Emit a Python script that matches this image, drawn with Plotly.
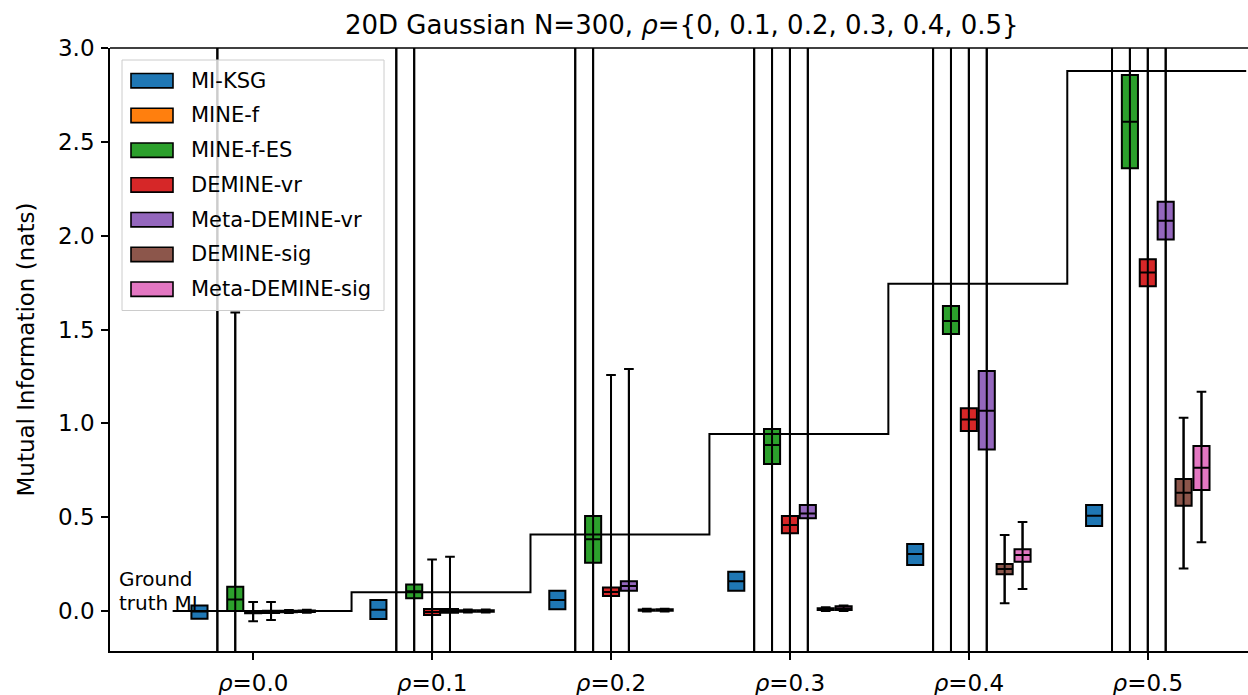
import plotly.graph_objects as go

# ---------------- data ----------------
rho_labels = ["0.0", "0.1", "0.2", "0.3", "0.4", "0.5"]
ground_truth = [0.0, 0.1005, 0.4082, 0.9431, 1.7435, 2.8768]

methods = ["MI-KSG", "MINE-f", "MINE-f-ES", "DEMINE-vr",
           "Meta-DEMINE-vr", "DEMINE-sig", "Meta-DEMINE-sig"]
colors = ["#1f77b4", "#ff7f0e", "#2ca02c", "#d62728",
          "#9467bd", "#8c564b", "#e377c2"]

# MI-KSG
ksg_q1 = [-0.041, -0.043, 0.009, 0.108, 0.245, 0.453]
ksg_med = [-0.002, 0.007, 0.059, 0.158, 0.304, 0.508]
ksg_q3 = [0.030, 0.059, 0.108, 0.209, 0.357, 0.565]
ksg_lo = [-0.041, -0.043, 0.009, 0.108, 0.245, 0.453]
ksg_hi = [0.030, 0.059, 0.108, 0.209, 0.357, 0.565]

# MINE-f (box off-scale, whiskers span the whole view)
minef_q1 = [-5.2, -4.8, -4.1, -3.6, -3.0, -2.4]
minef_med = [-3.1, -2.9, -2.5, -2.1, -1.7, -1.2]
minef_q3 = [-1.4, -1.3, -1.1, -0.9, -0.7, -0.5]
minef_lo = [-14.0, -13.0, -12.0, -11.0, -10.0, -9.0]
minef_hi = [4.5, 5.0, 5.5, 6.0, 6.5, 7.0]

# MINE-f-ES
minees_q1 = [0.000, 0.068, 0.257, 0.783, 1.476, 2.359]
minees_med = [0.062, 0.105, 0.382, 0.884, 1.545, 2.607]
minees_q3 = [0.130, 0.142, 0.506, 0.970, 1.625, 2.856]
minees_lo = [-1.2, -1.5, -1.6, -1.8, -2.0, -2.2]
minees_hi = [1.59, 3.4, 3.8, 4.2, 4.6, 5.0]

# DEMINE-vr
dvr_q1 = [-0.012, -0.021, 0.080, 0.414, 0.959, 1.731]
dvr_med = [-0.005, -0.005, 0.101, 0.458, 1.021, 1.804]
dvr_q3 = [0.000, 0.011, 0.126, 0.506, 1.080, 1.874]
dvr_lo = [-0.055, -0.9, -1.0, -1.2, -1.5, -1.8]
dvr_hi = [0.048, 0.275, 1.257, 3.3, 3.6, 4.0]

# Meta-DEMINE-vr
mdvr_q1 = [-0.010, -0.009, 0.108, 0.494, 0.861, 1.980]
mdvr_med = [-0.004, 0.001, 0.133, 0.520, 1.067, 2.079]
mdvr_q3 = [0.002, 0.011, 0.158, 0.565, 1.279, 2.181]
mdvr_lo = [-0.048, -0.8, -0.9, -1.1, -1.4, -1.6]
mdvr_hi = [0.048, 0.289, 1.289, 3.2, 3.5, 3.9]

# DEMINE-sig
dsig_q1 = [-0.006, -0.004, 0.002, 0.005, 0.196, 0.561]
dsig_med = [-0.002, 0.000, 0.005, 0.010, 0.224, 0.630]
dsig_q3 = [0.002, 0.004, 0.008, 0.015, 0.250, 0.703]
dsig_lo = [-0.010, -0.008, -0.002, 0.000, 0.041, 0.227]
dsig_hi = [0.006, 0.008, 0.012, 0.020, 0.405, 1.030]

# Meta-DEMINE-sig
mdsig_q1 = [-0.005, -0.004, 0.002, 0.005, 0.263, 0.645]
mdsig_med = [-0.001, 0.000, 0.005, 0.014, 0.298, 0.764]
mdsig_q3 = [0.003, 0.004, 0.009, 0.025, 0.329, 0.879]
mdsig_lo = [-0.009, -0.008, -0.002, 0.000, 0.117, 0.366]
mdsig_hi = [0.007, 0.008, 0.012, 0.030, 0.474, 1.168]

stats = [
    (ksg_q1, ksg_med, ksg_q3, ksg_lo, ksg_hi),
    (minef_q1, minef_med, minef_q3, minef_lo, minef_hi),
    (minees_q1, minees_med, minees_q3, minees_lo, minees_hi),
    (dvr_q1, dvr_med, dvr_q3, dvr_lo, dvr_hi),
    (mdvr_q1, mdvr_med, mdvr_q3, mdvr_lo, mdvr_hi),
    (dsig_q1, dsig_med, dsig_q3, dsig_lo, dsig_hi),
    (mdsig_q1, mdsig_med, mdsig_q3, mdsig_lo, mdsig_hi),
]

# ---------------- layout constants ----------------
W, H = 1248, 695
ML, MR, MT, MB = 110, 0, 48, 44
PW, PH = W - ML - MR, H - MT - MB
offsets = [-0.3, -0.2, -0.1, 0.0, 0.1, 0.2, 0.3]
FONT = "DejaVu Sans"

def px(xp):
    return (xp - ML) / PW

def py(yp):
    return (H - MB - yp) / PH

fig = go.Figure()
n = len(rho_labels)
for m, (name, col, st, off) in enumerate(zip(methods, colors, stats, offsets)):
    q1, med, q3, lo, hi = st
    xpos = [i + off for i in range(n)]
    fig.add_trace(go.Box(
        x=xpos, q1=q1, median=med, q3=q3,
        lowerfence=lo, upperfence=hi, name=name,
        width=0.09, whiskerwidth=0.6, fillcolor=col,
        line=dict(color="black", width=2), boxpoints=False,
        showlegend=False))
    # whisker line drawn straight through the box (as in the reference)
    wx, wy = [], []
    for xv, a, b, c, d in zip(xpos, lo, q1, q3, hi):
        if a < b or d > c:
            wx += [xv, xv, None]
            wy += [a, d, None]
    if wx:
        fig.add_trace(go.Scatter(x=wx, y=wy, mode="lines",
                                 line=dict(color="black", width=2),
                                 showlegend=False, hoverinfo="skip"))

# ground truth step line
step_x = [-0.45] + [i + 0.55 for i in range(n)]
step_y = [ground_truth[0]] + ground_truth[1:] + [ground_truth[-1]]
fig.add_trace(go.Scatter(x=step_x, y=step_y, mode="lines", line_shape="hv",
                         line=dict(color="black", width=2), showlegend=False))

shapes = []
annotations = []
# top spine
shapes.append(dict(type="line", xref="paper", yref="paper", x0=0, x1=1, y0=1, y1=1,
                   line=dict(color="black", width=1.7)))
# legend frame
shapes.append(dict(type="rect", xref="paper", yref="paper",
                   x0=px(122), x1=px(384), y0=py(310.5), y1=py(60),
                   fillcolor="rgba(255,255,255,0.8)", line=dict(color="#cccccc", width=1),
                   layer="above"))
for k, (name, col) in enumerate(zip(methods, colors)):
    cy = 80.7 + 34.75 * k
    shapes.append(dict(type="rect", xref="paper", yref="paper",
                       x0=px(131), x1=px(173), y0=py(cy + 7.2), y1=py(cy - 7.2),
                       fillcolor=col, line=dict(color="black", width=1.6), layer="above"))
    annotations.append(dict(text=name, xref="paper", yref="paper", x=px(189), y=py(cy),
                            xanchor="left", yanchor="middle", showarrow=False,
                            font=dict(family=FONT, size=21, color="black")))

# Ground truth label
annotations.append(dict(text="Ground", xref="x", yref="y", x=-0.755, y=0.170,
                        xanchor="left", yanchor="middle", showarrow=False, borderpad=0,
                        font=dict(family=FONT, size=20, color="black")))
annotations.append(dict(text="truth MI", xref="x", yref="y", x=-0.755, y=0.043,
                        xanchor="left", yanchor="middle", showarrow=False, borderpad=0,
                        font=dict(family=FONT, size=20, color="black")))
# title
annotations.append(dict(text="20D Gaussian N=300, <i>ρ</i>={0, 0.1, 0.2, 0.3, 0.4, 0.5}",
                        xref="paper", yref="paper", x=px(682), y=1, yshift=6,
                        xanchor="center", yanchor="bottom", showarrow=False,
                        font=dict(family=FONT, size=26, color="black")))
# y label
annotations.append(dict(text="Mutual Information (nats)", xref="paper", yref="paper",
                        x=px(25), y=0.5, xanchor="center", yanchor="middle",
                        textangle=-90, showarrow=False,
                        font=dict(family=FONT, size=23, color="black")))

fig.update_layout(
    width=W, height=H, autosize=False,
    margin=dict(l=ML, r=MR, t=MT, b=MB, pad=0),
    paper_bgcolor="white", plot_bgcolor="white",
    boxmode="overlay", showlegend=False,
    shapes=shapes, annotations=annotations,
    font=dict(family=FONT, size=21, color="black"),
    xaxis=dict(range=[-0.8, 5.56], tickmode="array", tickvals=list(range(n)),
               ticktext=["<i>ρ</i>=" + r for r in rho_labels],
               showgrid=False, zeroline=False, showline=True, linecolor="black",
               linewidth=1.7, ticks="outside", ticklen=7, tickwidth=1.7,
               ticklabelstandoff=4,
               tickcolor="black", tickfont=dict(family=FONT, size=23, color="black")),
    yaxis=dict(range=[-0.213, 3.0], tickmode="array",
               tickvals=[0.0, 0.5, 1.0, 1.5, 2.0, 2.5, 3.0],
               ticktext=["0.0", "0.5", "1.0", "1.5", "2.0", "2.5", "3.0"],
               showgrid=False, zeroline=False, showline=True, linecolor="black",
               linewidth=1.7, ticks="outside", ticklen=7, tickwidth=1.7,
               ticklabelstandoff=2,
               tickcolor="black", tickfont=dict(family=FONT, size=23, color="black")),
)

fig.write_html("out.html")
